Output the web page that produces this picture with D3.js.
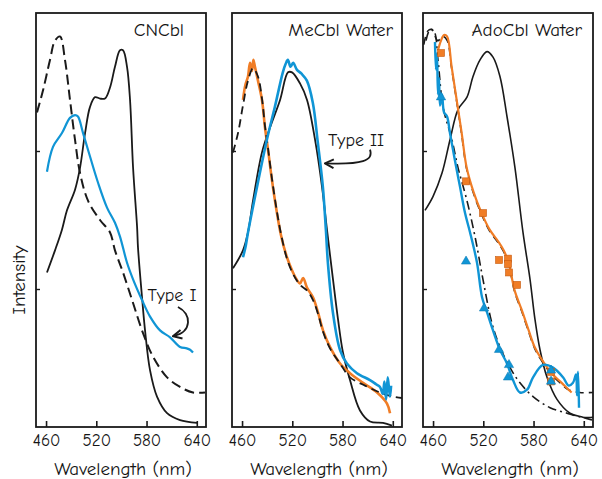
<!DOCTYPE html>
<html>
<head>
<meta charset="utf-8">
<script src="https://cdn.jsdelivr.net/npm/d3@7"></script>
<style>
  body { margin: 0; background: #fff; }
  text { font-family: "Comic Sans MS", "Comic Neue", "DejaVu Sans", sans-serif; fill: #151515; }
</style>
</head>
<body>
<div id="chart"></div>
<script>
// wavelength ticks shared by all three panels
const xTicks = [460, 520, 580, 640];
const yTicks = [1, 2];
const titles = ["CNCbl", "MeCbl Water", "AdoCbl Water"];

// ---- CNCbl panel ----
const cnDashed = [[449.2,2.28],[456.4,2.44],[464.7,2.66],[470.7,2.80],[476.7,2.83],[482.6,2.66],[488.6,2.37],[494.6,2.08],[500.6,1.84],[510.1,1.64],[524.4,1.50],[536.4,1.41],[542.3,1.28],[551.9,1.12],[563.8,0.90],[575.8,0.68],[587.7,0.51],[604.5,0.36],[620.0,0.29],[635.5,0.25],[649.8,0.25]];
const cnSolid = [[461.1,1.12],[470.7,1.28],[479.0,1.43],[485.0,1.57],[494.6,1.72],[500.6,1.88],[506.6,2.13],[512.5,2.32],[518.5,2.39],[524.4,2.38],[530.4,2.38],[536.4,2.46],[542.3,2.61],[548.3,2.73],[551.9,2.73],[556.7,2.61],[560.3,2.37],[563.9,1.88],[568.7,1.45],[569.8,1.30],[574.6,0.94],[578.2,0.70],[584.2,0.41],[592.5,0.22],[604.5,0.10],[620.0,0.05],[640.3,0.03]];
const cnBlue = [[461.1,1.85],[468.3,2.03],[479.0,2.13],[488.6,2.24],[494.6,2.26],[498.1,2.25],[504.2,2.13],[512.5,1.96],[522.1,1.77],[532.8,1.59],[542.3,1.48],[548.3,1.38],[556.7,1.19],[563.9,1.07],[574.6,0.92],[584.2,0.80],[596.1,0.70],[608.1,0.65],[620.0,0.58],[628.0,0.57],[632.0,0.56],[635.5,0.54]];

// ---- MeCbl panel ----
const meSolid = [[449.2,1.15],[461.1,1.28],[467.1,1.41],[473.1,1.64],[483.8,1.99],[493.4,2.17],[505.4,2.37],[514.9,2.57],[519.7,2.57],[529.2,2.49],[537.6,2.37],[547.2,2.08],[555.5,1.74],[561.4,1.43],[568.6,1.07],[574.6,0.78],[580.5,0.54],[588.9,0.34],[600.8,0.12],[612.8,0.04],[628.3,0.03],[639.0,0.01]];
const meBlue = [[461.1,1.23],[464.0,1.30],[467.1,1.41],[478.9,1.77],[489.6,2.08],[499.2,2.32],[508.7,2.57],[512.0,2.63],[514.7,2.66],[518.0,2.61],[521.0,2.64],[525.4,2.59],[531.0,2.56],[537.4,2.51],[544.5,2.35],[550.5,2.06],[556.5,1.74],[560.1,1.43],[562.5,1.19],[568.5,0.83],[576.9,0.56],[585.2,0.46],[597.2,0.39],[612.7,0.34],[620.0,0.31],[624.7,0.29],[628.0,0.24],[630.0,0.33],[632.0,0.20],[634.0,0.36],[636.6,0.22],[638.0,0.30]];
const meOrange = [[461.1,2.37],[464.0,2.48],[467.1,2.54],[469.5,2.64],[471.9,2.58],[473.5,2.66],[475.4,2.61],[479.0,2.51],[483.8,2.37],[487.4,2.17],[491.0,2.01],[495.7,1.79],[501.7,1.55],[506.5,1.39],[513.6,1.23],[520.8,1.12],[525.0,1.07],[529.2,1.04],[533.0,1.08],[537.5,1.01],[544.7,0.94],[550.7,0.83],[556.7,0.70],[565.0,0.58],[577.0,0.46],[588.9,0.39],[604.5,0.32],[621.2,0.25],[633.1,0.17],[636.7,0.10]];
const meDashed = [[449.2,1.99],[455.2,2.13],[461.1,2.33],[467.1,2.51],[473.1,2.60],[479.0,2.54],[483.8,2.38],[487.4,2.18],[491.0,2.02],[495.7,1.80],[501.7,1.56],[506.5,1.40],[513.6,1.22],[520.8,1.11],[529.2,1.03],[537.5,0.99],[544.7,0.92],[550.7,0.82],[556.7,0.69],[565.0,0.57],[577.0,0.46],[588.9,0.36],[606.8,0.30],[624.7,0.25],[640.2,0.22],[651.0,0.21]];

// ---- AdoCbl panel ----
const adoSolid = [[450.4,1.57],[459.9,1.67],[470.7,1.84],[480.2,2.08],[489.8,2.30],[500.5,2.39],[507.7,2.54],[516.1,2.66],[524.4,2.72],[531.6,2.68],[539.9,2.54],[548.3,2.25],[557.8,1.88],[567.4,1.41],[575.8,1.07],[581.7,0.78],[587.7,0.56],[596.1,0.36],[608.0,0.20],[623.5,0.10],[639.0,0.07],[649.8,0.05]];
const adoDashDot = [[451.6,2.80],[456.4,2.88],[461.1,2.87],[465.9,2.66],[471.9,2.32],[482.6,2.08],[489.8,1.88],[500.5,1.64],[510.1,1.38],[519.6,1.07],[530.4,0.75],[539.9,0.58],[551.9,0.43],[563.8,0.32],[579.4,0.22],[599.7,0.14],[620.0,0.10],[639.0,0.07],[651.0,0.07]];
const adoDashed = [[449.0,2.77],[453.7,2.87],[458.5,2.88],[465.6,2.80],[472.0,2.83],[477.0,2.80],[482.2,2.60],[488.2,2.36],[494.2,2.12],[500.1,1.87],[508.5,1.69],[518.0,1.54],[527.6,1.42],[538.3,1.33],[544.3,1.27],[550.3,1.18],[557.4,0.98],[565.8,0.84],[574.2,0.69],[581.3,0.57],[589.7,0.48],[601.6,0.38],[613.6,0.31],[621.9,0.27],[635.0,0.25],[651.0,0.25]];
const adoOrange = [[465.9,2.73],[469.5,2.80],[473.1,2.84],[476.7,2.83],[482.2,2.61],[488.2,2.37],[494.2,2.13],[500.1,1.88],[508.5,1.70],[518.0,1.55],[527.6,1.43],[538.3,1.34],[544.3,1.28],[550.3,1.19],[557.4,0.99],[565.8,0.85],[574.2,0.70],[581.3,0.58],[589.7,0.49],[601.6,0.39],[613.6,0.32],[621.9,0.27],[625.5,0.25]];
const adoSquares = [[469.5,2.71],[499.4,1.78],[519.7,1.55],[538.8,1.21],[549.5,1.22],[549.5,1.18],[550.7,1.12],[560.3,1.03],[600.9,0.40],[600.9,0.33]];
const adoBlue = [[462.3,2.79],[463.5,2.59],[464.7,2.70],[465.9,2.41],[467.1,2.53],[468.3,2.33],[470.7,2.41],[473.1,2.28],[476.7,2.25],[480.2,2.13],[486.2,1.93],[492.2,1.74],[498.2,1.55],[504.2,1.41],[512.5,1.19],[518.5,0.94],[524.5,0.83],[531.6,0.70],[539.9,0.56],[548.3,0.46],[555.5,0.34],[563.8,0.25],[572.2,0.27],[579.4,0.36],[591.3,0.45],[603.3,0.43],[615.2,0.36],[622.0,0.30],[627.1,0.32],[630.7,0.38],[631.9,0.23],[633.1,0.40],[634.3,0.14]];
const adoTriangles = [[469.5,2.39],[499.4,1.20],[520.9,0.86],[538.8,0.56],[550.7,0.45],[549.5,0.36],[600.9,0.41],[600.9,0.33]];

const blue = "#1095d5", orange = "#f07d26", black = "#1a1a1a";

const panels = [
  {left: 36, title: titles[0], titleRight: 22, series: [
    {d: cnDashed, c: black, w: 2, dash: "10,5"},
    {d: cnSolid, c: black, w: 1.8},
    {d: cnBlue, c: blue, w: 2.2}
  ], note: {text: "Type I", at: [581, 0.96],
            arrow: [[617.5,0.87],[634.3,0.82],[634.3,0.69],[612.8,0.66]]}},
  {left: 232, title: titles[1], titleRight: 9, series: [
    {d: meSolid, c: black, w: 1.8},
    {d: meOrange, c: orange, w: 2.6},
    {d: meDashed, c: black, w: 1.8, dash: "8,5"},
    {d: meBlue, c: blue, w: 2.6}
  ], note: {text: "Type II", at: [562.6, 2.08],
            arrow: [[612.8,2.01],[617.5,1.93],[603.2,1.90],[560.2,1.91]]}},
  {left: 423, title: titles[2], titleRight: 11, series: [
    {d: adoSolid, c: black, w: 1.6},
    {d: adoDashDot, c: black, w: 1.6, dash: "9,4,2,4"},
    {d: adoDashed, c: black, w: 1.6, dash: "8,5"},
    {d: adoOrange, c: orange, w: 2.2},
    {d: adoBlue, c: blue, w: 2.4}
  ], squares: adoSquares, triangles: adoTriangles}
];

const W = 602, H = 479;
const padTop = 13, padBottom = 427, pw = 170;
const ph = padBottom - padTop;

const svg = d3.select("#chart").append("svg")
  .attr("width", W).attr("height", H);

svg.append("defs").append("marker")
  .attr("id", "arrow").attr("viewBox", "0 0 10 10")
  .attr("refX", 8).attr("refY", 5)
  .attr("markerUnits", "userSpaceOnUse")
  .attr("markerWidth", 11).attr("markerHeight", 11)
  .attr("orient", "auto")
  .append("path").attr("d", "M1,1 L9,5 L1,9")
  .attr("fill", "none").attr("stroke", black).attr("stroke-width", 1.8);

const x = d3.scaleLinear().domain([448, 651]).range([0, pw]);
const y = d3.scaleLinear().domain([0, 3]).range([ph, 0]);
const line = d3.line().x(d => x(d[0])).y(d => y(d[1])).curve(d3.curveCatmullRom.alpha(0.5));

panels.forEach(p => {
  const g = svg.append("g").attr("transform", `translate(${p.left},${padTop})`);

  g.append("defs").append("clipPath").attr("id", "clip" + p.left)
    .append("rect").attr("width", pw).attr("height", ph);
  const plot = g.append("g").attr("clip-path", `url(#clip${p.left})`);

  p.series.forEach(s => {
    plot.append("path").datum(s.d)
      .attr("d", line)
      .attr("fill", "none")
      .attr("stroke", s.c)
      .attr("stroke-width", s.w)
      .attr("stroke-linejoin", "round")
      .attr("stroke-dasharray", s.dash || null);
  });

  if (p.squares) {
    plot.selectAll(".sq").data(p.squares).enter().append("rect")
      .attr("x", d => x(d[0]) - 3.5).attr("y", d => y(d[1]) - 3.5)
      .attr("width", 7).attr("height", 7)
      .attr("fill", orange).attr("stroke", "#c65a10").attr("stroke-width", 0.6);
  }
  if (p.triangles) {
    plot.selectAll(".tri").data(p.triangles).enter().append("path")
      .attr("transform", d => `translate(${x(d[0])},${y(d[1])})`)
      .attr("d", d3.symbol(d3.symbolTriangle, 38))
      .attr("fill", blue).attr("stroke", "#0a78b0").attr("stroke-width", 0.5);
  }

  // frame
  g.append("rect").attr("width", pw).attr("height", ph)
    .attr("fill", "none").attr("stroke", black).attr("stroke-width", 1.8);

  // x axis: inward ticks, labels below
  const xa = g.append("g").attr("transform", `translate(0,${ph})`)
    .call(d3.axisBottom(x).tickValues(xTicks).tickSizeInner(-6).tickSizeOuter(0).tickPadding(7));
  xa.select(".domain").remove();
  xa.selectAll("line").attr("stroke", black).attr("stroke-width", 1.6);
  xa.selectAll("text").attr("font-size", 17).attr("fill", "#151515");

  // y axis: inward ticks only
  const ya = g.append("g")
    .call(d3.axisLeft(y).tickValues(yTicks).tickSizeInner(-4).tickSizeOuter(0).tickFormat(""));
  ya.select(".domain").remove();
  ya.selectAll("line").attr("stroke", black).attr("stroke-width", 1.4);

  g.append("text").attr("x", pw - p.titleRight).attr("y", 23)
    .attr("text-anchor", "end").attr("font-size", 19).text(p.title);

  g.append("text").attr("x", pw / 2 + 2).attr("y", H - padTop - 4)
    .attr("text-anchor", "middle").attr("font-size", 19).text("Wavelength (nm)");

  if (p.note) {
    g.append("text").attr("x", x(p.note.at[0])).attr("y", y(p.note.at[1]) + 6)
      .attr("font-size", 18).text(p.note.text);
    const a = p.note.arrow.map(d => [x(d[0]), y(d[1])]);
    g.append("path")
      .attr("d", `M${a[0]} C${a[1]} ${a[2]} ${a[3]}`)
      .attr("fill", "none").attr("stroke", black).attr("stroke-width", 1.8)
      .attr("marker-end", "url(#arrow)");
  }
});

svg.append("text")
  .attr("transform", `translate(25,280) rotate(-90)`)
  .attr("text-anchor", "middle").attr("font-size", 19).text("Intensity");
</script>
</body>
</html>
